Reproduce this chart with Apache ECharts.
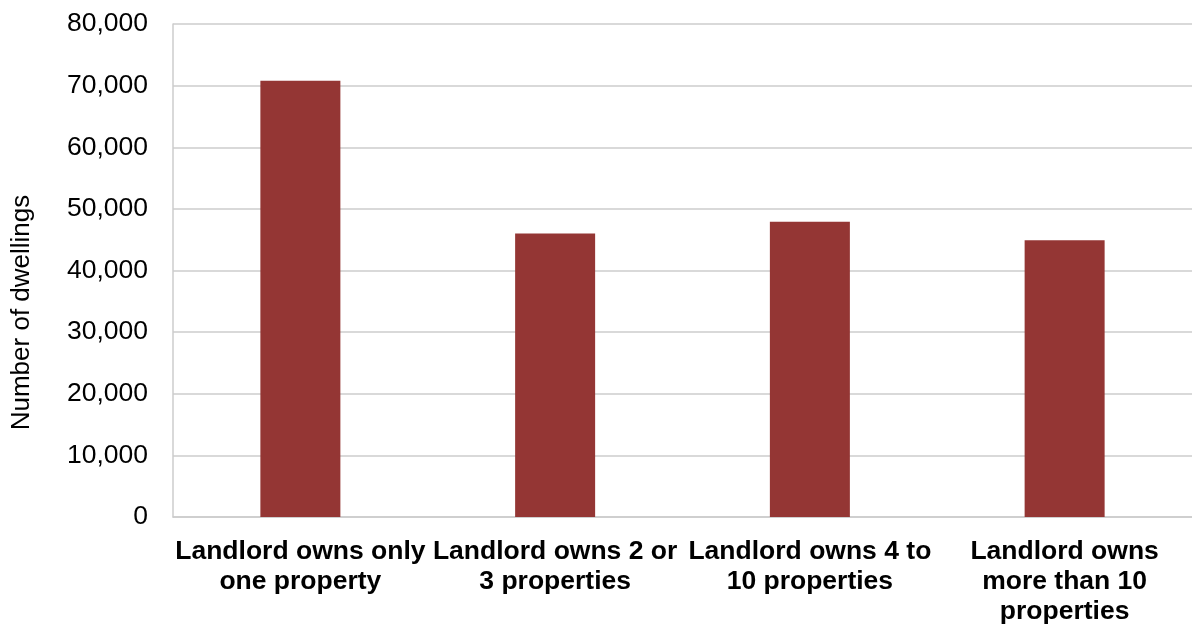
<!DOCTYPE html>
<html>
<head>
<meta charset="utf-8">
<script src="https://cdn.jsdelivr.net/npm/echarts@6/dist/echarts.min.js"></script>
<style>
  html, body { margin: 0; padding: 0; background: #fff; }
  #chart { width: 1192px; height: 625px; }
</style>
</head>
<body>
<div id="chart"></div>
<script>
var categories = [
  'Landlord owns only\none property',
  'Landlord owns 2 or\n3 properties',
  'Landlord owns 4 to\n10 properties',
  'Landlord owns\nmore than 10\nproperties'
]
var dwellings = [70800, 46000, 47900, 44900]
var yTicks = { min: 0, max: 80000, interval: 10000 }

var myChart = echarts.init(document.getElementById('chart'))
var option = {
  textStyle: { fontFamily: 'Liberation Sans, Arial, sans-serif' },
  grid: { left: 173, right: 0, top: 24, bottom: 108, outerBoundsMode: 'none' },
  xAxis: {
    type: 'category',
    data: categories,
    axisTick: { show: false },
    axisLine: { lineStyle: { color: '#cccccc', width: 1.5 } },
    axisLabel: {
      interval: 0,
      margin: 20,
      color: '#000',
      fontSize: 26.5,
      fontWeight: 'bold',
      lineHeight: 30
    }
  },
  yAxis: {
    type: 'value',
    min: yTicks.min,
    max: yTicks.max,
    interval: yTicks.interval,
    name: 'Number of dwellings',
    nameLocation: 'middle',
    nameGap: 138,
    nameTextStyle: { color: '#000', fontSize: 26, padding: [0, 84, 0, 0] },
    axisLine: { show: true, lineStyle: { color: '#cccccc', width: 1.5 } },
    axisTick: { show: false },
    splitLine: { lineStyle: { color: '#cccccc', width: 1.5 } },
    axisLabel: {
      margin: 25,
      color: '#000',
      fontSize: 26.5,
      formatter: function (v) { return v.toLocaleString('en-US') }
    }
  },
  series: [{
    type: 'bar',
    data: dwellings,
    barWidth: 80,
    itemStyle: { color: '#943634' }
  }]
}
myChart.setOption(option)
</script>
</body>
</html>
